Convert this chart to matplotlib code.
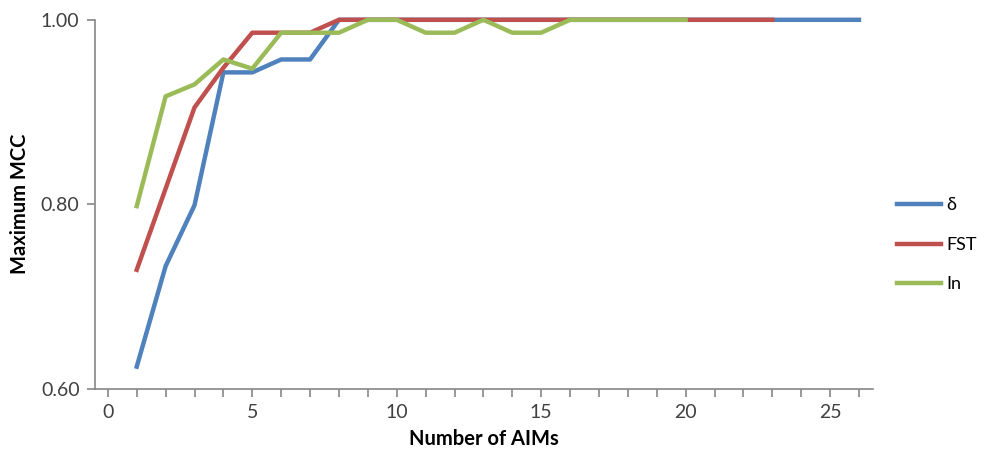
import matplotlib.pyplot as plt

plt.rcParams.update({'font.size': 14, 'font.family': ['Lato', 'DejaVu Sans']})

# Maximum MCC by number of AIMs, per ranking method
n_delta = list(range(1, 27))
mcc_delta = [0.624, 0.733, 0.799, 0.943, 0.943, 0.957, 0.957, 1.0, 1.0, 1.0,
             1.0, 1.0, 1.0, 1.0, 1.0, 1.0, 1.0, 1.0, 1.0, 1.0,
             1.0, 1.0, 1.0, 1.0, 1.0, 1.0]

n_fst = list(range(1, 24))
mcc_fst = [0.729, 0.817, 0.905, 0.948, 0.986, 0.986, 0.986, 1.0, 1.0, 1.0,
           1.0, 1.0, 1.0, 1.0, 1.0, 1.0, 1.0, 1.0, 1.0, 1.0,
           1.0, 1.0, 1.0]

n_in = list(range(1, 21))
mcc_in = [0.798, 0.917, 0.930, 0.957, 0.947, 0.986, 0.986, 0.986, 1.0, 1.0,
          0.986, 0.986, 1.0, 0.986, 0.986, 1.0, 1.0, 1.0, 1.0, 1.0]

fig = plt.figure(figsize=(9.88, 4.5), dpi=100)
ax = fig.add_axes([0.096, 0.136, 0.788, 0.82])

ax.plot(n_delta, mcc_delta, color='#4F81BD', lw=3.2, label='δ', clip_on=False)
ax.plot(n_fst, mcc_fst, color='#C0504D', lw=3.2, label='FST', clip_on=False)
ax.plot(n_in, mcc_in, color='#9BBB59', lw=3.2, label='In', clip_on=False)

ax.set_xlim(-0.45, 26.5)
ax.set_ylim(0.6, 1.0)
ax.set_yticks([0.6, 0.8, 1.0])
ax.set_yticklabels(['0.60', '0.80', '1.00'])
ax.set_xticks([0, 5, 10, 15, 20, 25])
ax.set_xticks(range(0, 27), minor=True)

for s in ['top', 'right']:
    ax.spines[s].set_visible(False)
for s in ['left', 'bottom']:
    ax.spines[s].set_color('#868686')
    ax.spines[s].set_linewidth(1.2)
ax.tick_params(which='both', color='#868686', width=1.2, length=6, labelcolor='#404040')
ax.tick_params(axis='x', which='major', pad=5)
ax.tick_params(axis='y', pad=5)

ax.set_xlabel('Number of AIMs', fontweight='bold', labelpad=6, fontsize=14.5)
ax.set_ylabel('Maximum MCC', fontweight='bold', labelpad=8, fontsize=14.5)

ax.legend(loc='center left', bbox_to_anchor=(1.01, 0.39), frameon=False,
          handlelength=2.4, handletextpad=0.3, labelspacing=1.3, fontsize=13)

fig.savefig('out.png', dpi=100)
